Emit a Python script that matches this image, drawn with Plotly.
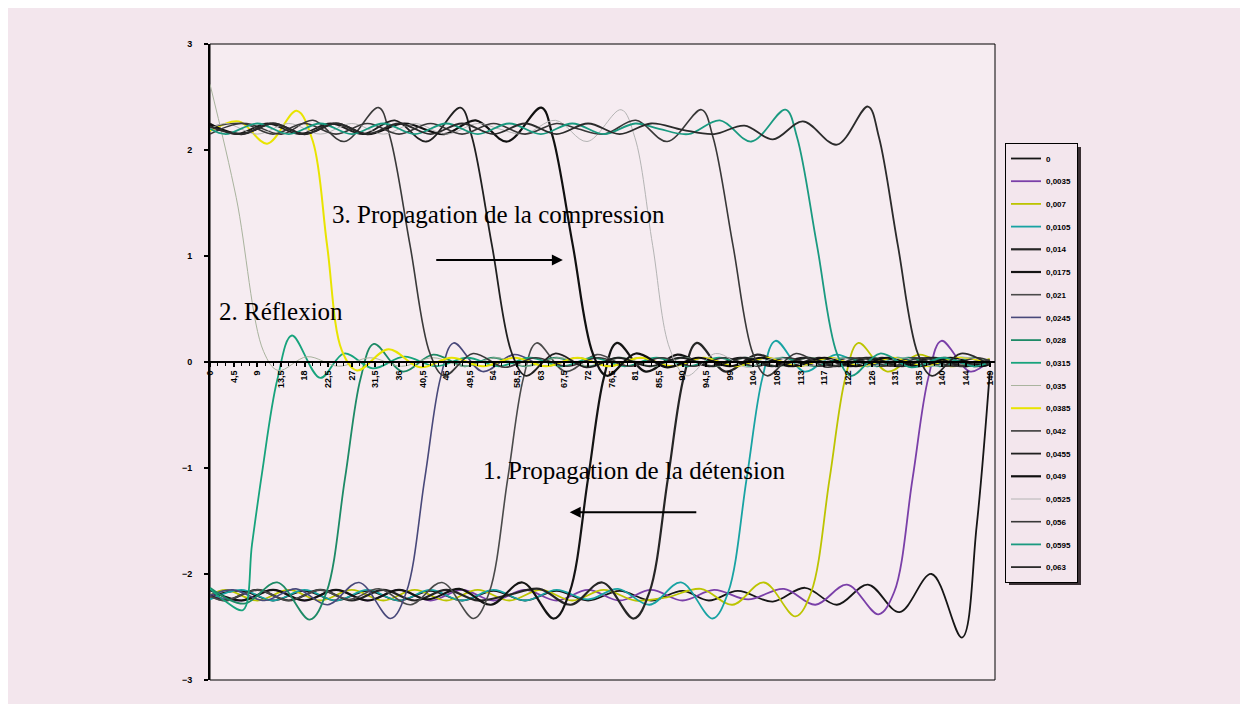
import plotly.graph_objects as go

# ---- data (x = position, y = value) ----
x_ticks = [0, 4.5, 9, 13.5, 18, 22.5, 27, 31.5, 36, 40.5, 45, 49.5, 54, 58.5, 63, 67.5, 72,
           76.5, 81, 85.5, 90, 94.5, 99, 103.5, 108, 112.5, 117, 121.5, 126, 130.5, 135, 139.5, 144, 148.5]
x_labels = ["0", "4,5", "9", "13,5", "18", "22,5", "27", "31,5", "36", "40,5", "45", "49,5", "54", "58,5",
            "63", "67,5", "72", "76,5", "81", "85,5", "90", "94,5", "99", "104", "108", "113", "117", "122",
            "126", "131", "135", "140", "144", "149"]
y_ticks = [-3, -2, -1, 0, 1, 2, 3]

series_names = ["0", "0,0035", "0,007", "0,0105", "0,014", "0,0175", "0,021", "0,0245", "0,028", "0,0315",
                "0,035", "0,0385", "0,042", "0,0455", "0,049", "0,0525", "0,056", "0,0595", "0,063"]

pts_t0000 = [(0,-2.21),(6,-2.16),(12,-2.25),(18,-2.16),(24,-2.25),(30,-2.16),(36,-2.25),(42,-2.16),(48,-2.25),
             (54,-2.16),(60,-2.25),(66,-2.16),(72,-2.25),(78,-2.16),(84,-2.25),(90,-2.16),(95,-2.25),(100.5,-2.16),
             (107.2,-2.26),(113.3,-2.13),(119.4,-2.29),(125.3,-2.10),(131.3,-2.36),(137.4,-2.00),(143.2,-2.60),
             (146,-1.55),(148.5,-0.10)]
pts_t0035 = [(0,-2.2),(6,-2.25),(12,-2.15),(18,-2.25),(24,-2.15),(30,-2.25),(36,-2.15),(42,-2.25),(48,-2.15),
             (54,-2.25),(60,-2.15),(66,-2.25),(72,-2.15),(78,-2.25),(84,-2.15),(90,-2.25),(96,-2.15),(102.5,-2.24),
             (109.3,-2.14),(115.3,-2.29),(121.3,-2.10),(127.3,-2.38),(130.3,-2.17),(133.8,-1.10),(136.8,-0.15),
             (139.3,0.20),(144.8,-0.09),(148.5,0.02)]
pts_t0070 = [(0,-2.2),(3,-2.15),(9,-2.25),(15,-2.15),(21,-2.25),(27,-2.15),(33,-2.25),(39,-2.15),(45,-2.25),
             (51,-2.15),(57,-2.25),(63,-2.15),(69,-2.25),(75,-2.15),(81,-2.25),(87,-2.22),(93.5,-2.14),(99.5,-2.29),
             (105.5,-2.08),(111.5,-2.40),(114.5,-2.17),(118,-1.10),(121,-0.15),(123.5,0.18),(129,-0.09),(135,0.07),
             (141,-0.04),(148.5,0.03)]
pts_t0105 = [(0,-2.24),(6,-2.15),(12,-2.25),(18,-2.15),(24,-2.25),(30,-2.15),(36,-2.25),(42,-2.15),(48,-2.25),
             (54,-2.15),(60,-2.25),(66,-2.15),(72,-2.24),(77.7,-2.14),(83.7,-2.29),(89.7,-2.08),(95.7,-2.42),
             (98.7,-2.17),(102.2,-1.10),(105.2,-0.15),(107.7,0.20),(113.2,-0.09),(119.2,0.07),(125.2,-0.04),
             (131,0.04),(137,-0.04),(143,0.04),(148.5,-0.01)]
pts_t0140 = [(0,-2.2),(3,-2.25),(9,-2.15),(15,-2.25),(21,-2.15),(27,-2.25),(33,-2.15),(39,-2.25),(45,-2.15),
             (51,-2.25),(56.7,-2.2),(62.7,-2.14),(68.7,-2.29),(74.7,-2.08),(80.7,-2.42),(83.7,-2.17),(87.2,-1.10),
             (90.2,-0.15),(92.7,0.18),(98.2,-0.09),(104.2,0.07),(110.2,-0.04),(116,0.04),(122,-0.04),(128,0.04),
             (134,-0.04),(140,0.04),(146,-0.04),(148.5,0.0)]
pts_t0175 = [(0,-2.15),(6,-2.25),(12,-2.15),(18,-2.25),(24,-2.15),(30,-2.25),(36,-2.15),(41.5,-2.24),(47.5,-2.14),
             (53.5,-2.29),(59.5,-2.08),(65.5,-2.42),(68.5,-2.17),(72,-1.10),(75,-0.15),(77.5,0.18),(83,-0.09),
             (89,0.07),(95,-0.04),(101,0.04),(107,-0.04),(113,0.04),(119,-0.04),(125,0.04),(131,-0.04),(137,0.04),
             (143,-0.04),(148.5,0.01)]
pts_t0210 = [(0,-2.21),(3,-2.25),(9,-2.15),(15,-2.25),(21,-2.15),(26.5,-2.24),(32.2,-2.14),(38.2,-2.29),
             (44.2,-2.08),(50.2,-2.42),(53.2,-2.17),(56.7,-1.10),(59.7,-0.15),(62.2,0.18),(67.7,-0.09),(73.7,0.07),
             (79.7,-0.04),(85.7,0.04),(91.7,-0.04),(97.7,0.04),(103.7,-0.04),(109.7,0.04),(115.7,-0.04),
             (121.7,0.04),(127.7,-0.04),(133.7,0.04),(139.7,-0.04),(145.7,0.04),(148.5,0.0)]
pts_t0245 = [(0,-2.2),(4.4,-2.15),(10.4,-2.25),(16.4,-2.14),(22.4,-2.29),(28.4,-2.08),(34.4,-2.42),(37.4,-2.17),
             (40.9,-1.10),(43.9,-0.15),(46.4,0.18),(51.9,-0.09),(57.9,0.07),(63.9,-0.04),(70,0.04),(76,-0.04),
             (82,0.04),(88,-0.04),(94,0.04),(100,-0.04),(106,0.04),(112,-0.04),(118,0.04),(124,-0.04),(130,0.04),
             (136,-0.04),(142,0.04),(148.5,-0.01)]
pts_t0280 = [(0,-2.13),(6.5,-2.28),(12.8,-2.08),(19,-2.43),(22.2,-2.17),(25.7,-1.10),(28.7,-0.15),(31.2,0.17),
             (36.7,-0.09),(42.5,0.07),(48.5,-0.04),(54,0.04),(60,-0.04),(66,0.04),(72,-0.04),(78,0.04),(84,-0.04),
             (90,0.04),(96,-0.04),(102,0.04),(108,-0.04),(114,0.04),(120,-0.04),(126,0.04),(132,-0.04),(138,0.04),
             (144,-0.04),(148.5,0.01)]
pts_t0315 = [(0,-2.14),(3,-2.26),(6.3,-2.34),(8,-1.72),(9.9,-1.05),(12.8,-0.17),(15.6,0.25),(21,-0.15),
             (25.5,0.08),(31,-0.06),(37,0.05),(43,-0.04),(49,0.04),(55,-0.04),(61,0.04),(67,-0.04),(73,0.04),
             (79,-0.04),(85,0.04),(91,-0.04),(97,0.04),(103,-0.04),(109,0.04),(115,-0.04),(121,0.04),(127,-0.04),
             (133,0.04),(139,-0.04),(145,0.04),(148.5,0.0)]
pts_t0350 = [(0,2.62),(5,1.55),(10.2,0.10),(13,-0.08),(18.5,0.05),(24.5,-0.04),(30.5,0.04),(36.5,-0.04),
             (42.5,0.04),(48.5,-0.04),(54.5,0.04),(60.5,-0.04),(66.5,0.04),(72.5,-0.04),(78.5,0.04),(84.5,-0.04),
             (90.5,0.04),(96.5,-0.04),(102.5,0.04),(108.5,-0.04),(114.5,0.04),(120.5,-0.04),(126.5,0.04),
             (132.5,-0.04),(138.5,0.04),(144.5,-0.04),(148.5,0.01)]
pts_t0385 = [(0,2.18),(5.5,2.27),(10.9,2.06),(16.5,2.37),(19.6,2.08),(22.3,1.10),(25.1,0.11),(28,-0.08),
             (34,0.12),(40,-0.05),(46,0.04),(52,-0.04),(58,0.04),(64,-0.04),(70,0.04),(76,-0.04),(82,0.04),
             (88,-0.04),(94,0.04),(100,-0.04),(106,0.04),(112,-0.04),(118,0.04),(124,-0.04),(130,0.04),
             (136,-0.04),(142,0.04),(148.5,0.0)]
pts_t0420 = [(0,2.22),(7,2.25),(13.6,2.15),(19.6,2.28),(25.6,2.08),(32.1,2.40),(34.3,2.12),(38.1,1.10),
             (41.9,0.08),(44.6,-0.13),(50.1,0.08),(56.1,-0.05),(62,0.04),(68,-0.04),(74,0.04),(80,-0.04),(86,0.04),
             (92,-0.04),(98,0.04),(104,-0.04),(110,0.04),(116,-0.04),(122,0.04),(128,-0.04),(134,0.04),
             (140,-0.04),(146,0.04),(148.5,0.01)]
pts_t0455 = [(0,2.25),(5,2.15),(11,2.25),(17,2.15),(23,2.25),(29.2,2.15),(35.2,2.28),(41.2,2.08),(47.7,2.40),
             (49.9,2.12),(53.7,1.10),(57.5,0.08),(60.2,-0.13),(65.7,0.08),(71.7,-0.05),(77.7,0.04),(83.7,-0.04),
             (89.7,0.04),(95.7,-0.04),(101.7,0.04),(107.7,-0.04),(113.7,0.04),(119.7,-0.04),(125.7,0.04),
             (131.7,-0.04),(137.7,0.04),(143.7,-0.04),(148.5,0.0)]
pts_t0490 = [(0,2.24),(6,2.15),(12,2.25),(18,2.15),(24,2.25),(30,2.15),(37,2.25),(44.6,2.15),(50.6,2.28),
             (56.6,2.08),(63.1,2.40),(65.3,2.12),(69.1,1.10),(72.9,0.08),(75.6,-0.13),(81.1,0.08),(87.1,-0.05),
             (93,0.04),(99,-0.04),(105,0.04),(111,-0.04),(117,0.04),(123,-0.04),(129,0.04),(135,-0.04),
             (141,0.04),(147,-0.04),(148.5,-0.02)]
pts_t0525 = [(0,2.2),(3,2.25),(9,2.15),(15,2.25),(21,2.15),(27,2.25),(33,2.15),(39,2.25),(45,2.15),(51,2.25),
             (55,2.2),(59.8,2.15),(65.8,2.28),(71.8,2.08),(78.3,2.38),(80.9,2.12),(84.3,1.10),(87.6,0.12),
             (90.8,-0.13),(96.3,0.08),(102.3,-0.05),(108,0.04),(114,-0.04),(120,0.04),(126,-0.04),(132,0.04),
             (138,-0.04),(144,0.04),(148.5,0.0)]
pts_t0560 = [(0,2.15),(6,2.25),(12,2.15),(18,2.25),(24,2.15),(30,2.25),(36,2.15),(42,2.25),(48,2.15),(54,2.25),
             (60,2.15),(66,2.25),(70,2.2),(75.1,2.15),(81.1,2.28),(87.1,2.08),(93.6,2.38),(95.8,2.12),(99.6,1.10),
             (103.4,0.08),(106.1,-0.13),(111.6,0.08),(117.6,-0.05),(123.6,0.04),(129.6,-0.04),(135.6,0.04),
             (141.6,-0.04),(148.5,0.02)]
pts_t0595 = [(0,2.2),(3,2.15),(9,2.25),(15,2.15),(21,2.25),(27,2.15),(33,2.25),(39,2.15),(45,2.25),(51,2.15),
             (57,2.25),(63,2.15),(69,2.25),(75,2.15),(81,2.25),(85.5,2.2),(91.1,2.15),(97.1,2.28),(103.1,2.08),
             (109.6,2.38),(111.8,2.12),(115.6,1.10),(119.4,0.08),(122.1,-0.13),(127.6,0.08),(133.6,-0.05),
             (139.6,0.04),(145.6,-0.04),(148.5,0.0)]
pts_t0630 = [(0,2.22),(6,2.15),(12,2.25),(18,2.15),(24,2.25),(30,2.15),(36,2.25),(42,2.15),(48,2.25),(54,2.15),
             (60,2.25),(66,2.15),(72,2.25),(78,2.15),(84,2.25),(90,2.19),(96,2.15),(101.8,2.23),(107.2,2.10),
             (112.9,2.27),(119.4,2.05),(125.3,2.41),(127.4,2.12),(131,1.10),(134.8,0.08),(137.5,-0.13),(143,0.08),
             (148.5,-0.03)]

series_points = [pts_t0000, pts_t0035, pts_t0070, pts_t0105, pts_t0140, pts_t0175, pts_t0210, pts_t0245,
                 pts_t0280, pts_t0315, pts_t0350, pts_t0385, pts_t0420, pts_t0455, pts_t0490, pts_t0525,
                 pts_t0560, pts_t0595, pts_t0630]

# ---- styles ----
colors = ["#161616", "#7a3fa8", "#bcc400", "#18a3a3", "#262626", "#141414", "#4a4a4a", "#48487a", "#1d8a66",
          "#17a37c", "#a9b39e", "#e8e400", "#3a3a3a", "#202020", "#101010", "#b4b4b4", "#383838", "#1a9a80",
          "#2b2b2b"]
widths = [1.8, 1.8, 1.8, 1.8, 2.2, 2.2, 1.6, 1.6, 1.8, 1.8, 1.0, 2.0, 1.6, 1.8, 2.2, 1.0, 1.6, 1.8, 1.8]

PAGE = "#f3e6ed"
PLOT = "#f6ecf1"

fig = go.Figure()
for name, pts, c, w in zip(series_names, series_points, colors, widths):
    xs = [p[0] for p in pts]
    ys = [p[1] for p in pts]
    fig.add_trace(go.Scatter(x=xs, y=ys, mode="lines", name=name, legendgroup=name,
                             line=dict(color=c, width=w, shape="spline", smoothing=1.0)))

OFF = 8  # page body margin
W, H = 1248, 704
L, T = 210 - OFF, 44 - OFF
pw, ph = 785, 636
R, B = W - L - pw, H - T - ph

def px2paper_x(px):
    return (px - OFF - L) / pw

def px2paper_y(py):
    return (T + ph - (py - OFF)) / ph

tickfont = dict(family="Liberation Sans", size=9, color="black", weight="bold")

fig.update_layout(
    width=W, height=H,
    margin=dict(l=L, r=R, t=T, b=B),
    paper_bgcolor=PAGE, plot_bgcolor=PLOT,
    showlegend=True,
    legend=dict(x=px2paper_x(1005), y=px2paper_y(143), xanchor="left", yanchor="top",
                bgcolor=PAGE, bordercolor="black", borderwidth=1,
                font=dict(family="Liberation Sans", size=8, color="black", weight="bold"),
                itemwidth=30, tracegroupgap=3.7),
    xaxis=dict(range=[0, 149.5], anchor="free", position=0.5, showgrid=False, zeroline=False,
               showline=True, linecolor="black", linewidth=2,
               tickmode="array", tickvals=x_ticks, ticktext=x_labels, tickangle=-90,
               ticks="outside", ticklen=4, tickwidth=1.5, tickcolor="black", tickfont=tickfont,
               minor=dict(tickmode="linear", tick0=0, dtick=1.5, ticks="outside", ticklen=3,
                          tickwidth=1, tickcolor="black")),
    yaxis=dict(range=[-3, 3], showgrid=False, zeroline=False, showline=True, linecolor="black",
               linewidth=2, tickmode="array", tickvals=y_ticks, ticks="outside", ticklen=4,
               tickwidth=1.5, tickcolor="black", tickfont=tickfont, ticklabelstandoff=10),
)

# plot frame and legend shadow
fig.add_shape(type="rect", xref="paper", yref="paper", x0=0, y0=0, x1=1, y1=1,
              line=dict(color="black", width=1), layer="below")
fig.add_shape(type="rect", xref="paper", yref="paper",
              x0=px2paper_x(1009), x1=px2paper_x(1081), y0=px2paper_y(585), y1=px2paper_y(147),
              fillcolor="#3a3034", line=dict(width=0), layer="above")

serif = dict(family="Liberation Serif", size=25, color="black")
fig.add_annotation(x=55.0, y=1.387, xref="x", yref="y", text="3. Propagation de la compression",
                   showarrow=False, font=serif)
fig.add_annotation(x=13.55, y=0.475, xref="x", yref="y", text="2. Réflexion", showarrow=False, font=serif)
fig.add_annotation(x=80.9, y=-1.025, xref="x", yref="y", text="1. Propagation de la détension",
                   showarrow=False, font=serif)
# arrows
fig.add_annotation(x=67.2, y=0.962, ax=42.8, ay=0.962, xref="x", yref="y", axref="x", ayref="y",
                   text="", showarrow=True, arrowhead=2, arrowsize=1.1, arrowwidth=2, arrowcolor="black",
                   standoff=0, startstandoff=0)
fig.add_annotation(x=68.5, y=-1.418, ax=92.9, ay=-1.418, xref="x", yref="y", axref="x", ayref="y",
                   text="", showarrow=True, arrowhead=2, arrowsize=1.1, arrowwidth=2, arrowcolor="black",
                   standoff=0, startstandoff=0)
fig.add_annotation(x=-5.9, y=0.85, ax=-5.9, ay=-0.98, xref="x", yref="y", axref="x", ayref="y",
                   text="", showarrow=True, arrowhead=2, arrowsize=1.1, arrowwidth=2, arrowcolor="black",
                   standoff=0, startstandoff=0)

fig.write_html("out.html")
